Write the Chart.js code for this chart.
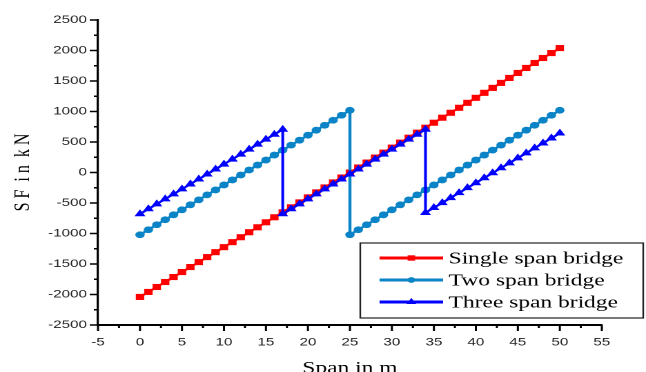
<!DOCTYPE html>
<html>
<head>
<meta charset="utf-8">
<script src="https://cdn.jsdelivr.net/npm/chart.js"></script>
<style>
  html, body { margin: 0; padding: 0; background: #fff; overflow: hidden; }
  #wrap { width: 468px; height: 372px; transform: scaleX(1.3803); transform-origin: 0 0; }
</style>
</head>
<body>
<div id="wrap"><canvas id="sfChart" width="468" height="372"></canvas></div>
<script>
// span positions (m) and shear force (kN)
const spanX = [0,1,2,3,4,5,6,7,8,9,10,11,12,13,14,15,16,17,18,19,20,21,22,23,24,25,
  26,27,28,29,30,31,32,33,34,35,36,37,38,39,40,41,42,43,44,45,46,47,48,49,50];
const singleSpan = [-2040,-1958,-1877,-1795,-1714,-1632,-1550,-1469,-1387,-1306,-1224,
  -1142,-1061,-979,-898,-816,-734,-653,-571,-490,-408,-326,-245,-163,-82,0,
  82,163,245,326,408,490,571,653,734,816,898,979,1061,1142,1224,1306,1387,1469,1550,
  1632,1714,1795,1877,1958,2040];

const twoSpanX = [0,1,2,3,4,5,6,7,8,9,10,11,12,13,14,15,16,17,18,19,20,21,22,23,24,25,
  25,26,27,28,29,30,31,32,33,34,35,36,37,38,39,40,41,42,43,44,45,46,47,48,49,50];
const twoSpan = [-1020,-938,-857,-775,-694,-612,-530,-449,-367,-286,-204,-122,-41,
  41,122,204,286,367,449,530,612,694,775,857,938,1020,
  -1020,-938,-857,-775,-694,-612,-530,-449,-367,-286,-204,-122,-41,
  41,122,204,286,367,449,530,612,694,775,857,938,1020];

const threeSpanX = [0,1,2,3,4,5,6,7,8,9,10,11,12,13,14,15,16,17,
  17,18,19,20,21,22,23,24,25,26,27,28,29,30,31,32,33,34,
  34,35,36,37,38,39,40,41,42,43,44,45,46,47,48,49,50];
const threeSpan = [-680,-598,-517,-435,-354,-272,-191,-109,-28,54,135,217,298,380,461,543,624,705,
  -680,-598,-517,-435,-354,-272,-191,-109,-28,54,135,217,298,380,461,543,624,705,
  -660,-578,-497,-415,-334,-252,-171,-89,-8,74,155,237,318,400,481,563,644];

const seriesNames = ['Single span bridge', 'Two span bridge', 'Three span bridge'];
const xTickLabels = [-5, 0, 5, 10, 15, 20, 25, 30, 35, 40, 45, 50, 55];
const yTickLabels = [-2500, -2000, -1500, -1000, -500, 0, 500, 1000, 1500, 2000, 2500];

function toPoints(xs, ys) {
  return xs.map((x, i) => ({ x: x, y: ys[i] }));
}

// major + minor tick marks (outward)
const tickMarks = {
  id: 'tickMarks',
  afterDraw(chart) {
    const { ctx, chartArea, scales: { x, y } } = chart;
    ctx.save();
    ctx.strokeStyle = '#000';
    ctx.lineWidth = 1.5;
    ctx.beginPath();
    x.ticks.forEach(t => {
      const px = x.getPixelForValue(t.value);
      const len = xTickLabels.includes(t.value) ? 6 : 3;
      ctx.moveTo(px, chartArea.bottom);
      ctx.lineTo(px, chartArea.bottom + len);
    });
    y.ticks.forEach(t => {
      const py = y.getPixelForValue(t.value);
      const len = yTickLabels.includes(t.value) ? 6 : 3;
      ctx.moveTo(chartArea.left, py);
      ctx.lineTo(chartArea.left - len, py);
    });
    ctx.stroke();
    ctx.restore();
  }
};

// boxed legend in the lower right corner
const boxLegend = {
  id: 'boxLegend',
  afterDraw(chart) {
    const ctx = chart.ctx;
    const box = { x: 261, y: 243, w: 205, h: 75 };
    ctx.save();
    ctx.fillStyle = '#fff';
    ctx.fillRect(box.x, box.y, box.w, box.h);
    ctx.strokeStyle = '#222';
    ctx.lineWidth = 1.2;
    ctx.strokeRect(box.x, box.y, box.w, box.h);
    chart.data.datasets.forEach((ds, i) => {
      const rowY = 258 + i * 22;
      ctx.strokeStyle = ds.borderColor;
      ctx.lineWidth = 3;
      ctx.beginPath();
      ctx.moveTo(275, rowY);
      ctx.lineTo(321, rowY);
      ctx.stroke();
      const opts = { pointStyle: ds.pointStyle, radius: ds.pointRadius - 0.5, borderWidth: 0, rotation: 0 };
      ctx.fillStyle = ds.backgroundColor;
      if (Chart.helpers && Chart.helpers.drawPoint) {
        Chart.helpers.drawPoint(ctx, opts, 298, rowY);
      }
      ctx.fillStyle = '#000';
      ctx.font = '17px "Liberation Serif", "Times New Roman", serif';
      ctx.textBaseline = 'middle';
      ctx.fillText(ds.label, 325, rowY + 1);
    });
    ctx.restore();
  }
};

const tickFont = { family: '"Liberation Sans", Arial, sans-serif', size: 11 };
const titleFamily = '"Liberation Serif", "Times New Roman", serif';

new Chart(document.getElementById('sfChart').getContext('2d'), {
  type: 'scatter',
  data: {
    datasets: [
      {
        label: seriesNames[0],
        data: toPoints(spanX, singleSpan),
        showLine: true,
        borderColor: '#ff0000',
        backgroundColor: '#ff0000',
        borderWidth: 2,
        pointStyle: 'rect',
        pointRadius: 4.3,
        pointBorderWidth: 0,
        order: 3
      },
      {
        label: seriesNames[1],
        data: toPoints(twoSpanX, twoSpan),
        showLine: true,
        borderColor: '#0a84c6',
        backgroundColor: '#0a84c6',
        borderWidth: 2.2,
        pointStyle: 'circle',
        pointRadius: 3.4,
        pointBorderWidth: 0,
        order: 2
      },
      {
        label: seriesNames[2],
        data: toPoints(threeSpanX, threeSpan),
        showLine: true,
        borderColor: '#0000ff',
        backgroundColor: '#0000ff',
        borderWidth: 2,
        pointStyle: 'triangle',
        pointRadius: 4.6,
        pointBorderWidth: 0,
        order: 1
      }
    ]
  },
  options: {
    responsive: false,
    animation: false,
    devicePixelRatio: 2,
    layout: { padding: { top: 20, right: 32, left: 0, bottom: 0 } },
    plugins: {
      legend: { display: false },
      tooltip: { enabled: false }
    },
    scales: {
      x: {
        type: 'linear',
        min: -5,
        max: 55,
        afterFit(scale) { scale.height = 47; },
        grid: { display: false, drawTicks: true, tickLength: 6 },
        border: { display: true, color: '#000', width: 2 },
        ticks: {
          stepSize: 2.5,
          autoSkip: false,
          maxRotation: 0,
          padding: 5,
          color: '#222',
          font: tickFont,
          callback: v => xTickLabels.includes(v) ? String(v) : ''
        },
        title: {
          display: true,
          text: 'Span in m',
          color: '#000',
          padding: { top: 0, bottom: -5 },
          font: { family: titleFamily, size: 17, lineHeight: 1 }
        }
      },
      y: {
        type: 'linear',
        min: -2500,
        max: 2500,
        afterFit(scale) { scale.width = 71; },
        grid: { display: false, drawTicks: true, tickLength: 5 },
        border: { display: true, color: '#000', width: 1.6 },
        ticks: {
          stepSize: 250,
          autoSkip: false,
          padding: 3,
          color: '#222',
          font: tickFont,
          callback: v => yTickLabels.includes(v) ? String(v) : ''
        },
        title: {
          display: true,
          text: 'S F  i n  k N',
          color: '#000',
          padding: { top: 9, bottom: 0 },
          font: { family: titleFamily, size: 16, lineHeight: 1 }
        }
      }
    }
  },
  plugins: [tickMarks, boxLegend]
});
</script>
</body>
</html>
